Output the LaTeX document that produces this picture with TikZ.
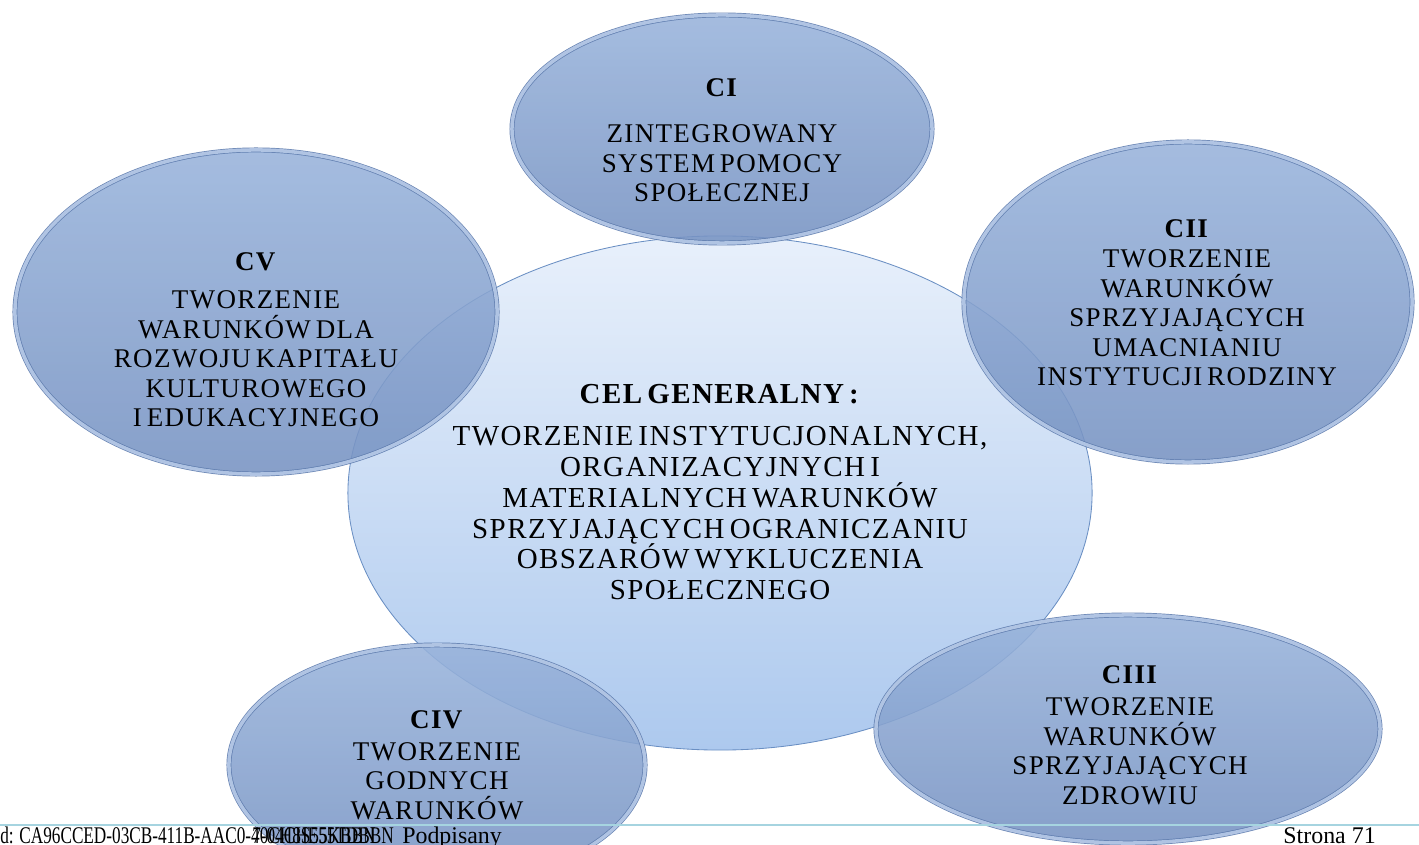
\documentclass[tikz,border=0pt]{standalone}
\usepackage{fontspec}
\setmainfont{Liberation Serif}
\newfontfamily\goalfont[LetterSpace=5,WordSpace=0.6]{Liberation Serif}
\usetikzlibrary{shapes.geometric}

\definecolor{goaltop}{HTML}{98B3DB}
\definecolor{goalbot}{HTML}{7692C2}
\definecolor{goaledge}{HTML}{5A78AB}
\definecolor{goalring}{HTML}{B9CCE9}
\definecolor{celtop}{HTML}{E8F0FB}
\definecolor{celbot}{HTML}{ADC9EE}
\definecolor{celedge}{HTML}{6A8FC3}
\definecolor{footline}{HTML}{A6D4E0}

\tikzset{
  goal/.style={ellipse, inner sep=0, outer sep=0, draw=goaledge, line width=0.5pt,
    double=goalring, double distance=2.5pt, top color=goaltop, bottom color=goalbot,
    fill opacity=0.88, draw opacity=0.9},
  cel/.style={ellipse, inner sep=0, outer sep=0, draw=celedge, line width=0.6pt,
    top color=celtop, bottom color=celbot},
  goaltext/.style={align=center, inner sep=0, font=\goalfont\fontsize{19.2}{21}\selectfont},
  celtext/.style={align=center, inner sep=0, font=\goalfont\fontsize{20.6}{22}\selectfont},
  foottext/.style={inner sep=0, font=\fontsize{17}{19}\selectfont},
}

\begin{document}
\begin{tikzpicture}[x=0.025cm,y=-0.025cm]
\useasboundingbox (0,0) rectangle (1419,845);
\clip (0,0) rectangle (1419,845);
% central goal
\node[cel, minimum width=18.6cm, minimum height=12.85cm] (cel) at (720,493) {};
% five specific goals
\node[goal, minimum width=10.5cm, minimum height=5.7cm] (c1) at (722,129) {};
\node[goal, minimum width=11.2cm, minimum height=8cm] (c2) at (1188,302) {};
\node[goal, minimum width=12.6cm, minimum height=5.7cm] (c3) at (1128,729) {};
\node[goal, minimum width=10.4cm, minimum height=6cm] (c4) at (437,765) {};
\node[goal, minimum width=12.05cm, minimum height=8.1cm] (c5) at (256,312) {};

\node[celtext] (celtxt) at (720,492) {\textbf{CEL GENERALNY :}\\[8pt]TWORZENIE INSTYTUCJONALNYCH,\\ORGANIZACYJNYCH I\\MATERIALNYCH WARUNKÓW\\SPRZYJAJĄCYCH OGRANICZANIU\\OBSZARÓW WYKLUCZENIA\\SPOŁECZNEGO};
\node[goaltext] (c1txt) at (722,140) {\textbf{CI}\\[12pt]ZINTEGROWANY\\SYSTEM POMOCY\\SPOŁECZNEJ};
\node[goaltext] (c2txt) at (1187,303) {\textbf{CII}\\TWORZENIE\\WARUNKÓW\\SPRZYJAJĄCYCH\\UMACNIANIU\\INSTYTUCJI RODZINY};
\node[goaltext] (c3txt) at (1130,735) {\textbf{CIII}\\[2pt]TWORZENIE\\WARUNKÓW\\SPRZYJAJĄCYCH\\ZDROWIU};
\node[goaltext] (c4txt) at (437,765) {\textbf{CIV}\\[2pt]TWORZENIE\\GODNYCH\\WARUNKÓW};
\node[goaltext] (c5txt) at (256,340) {\textbf{CV}\\[6pt]TWORZENIE\\WARUNKÓW DLA\\ROZWOJU KAPITAŁU\\KULTUROWEGO\\I EDUKACYJNEGO};

% footer of the page
\coordinate (ruleL) at (0,825);
\coordinate (ruleR) at (1419,825);
\draw[footline, line width=1.4pt] (ruleL) -- (ruleR);
\node[foottext, anchor=base west] (docid) at (0,843) {\scalebox{0.72}[1]{d: CA96CCED-03CB-411B-AAC0-40CH8S55KBBN}};
\node[foottext, anchor=base west] (docid2) at (252,843) {\scalebox{0.72}[1]{7-04CHE55TDBBN}};
\node[foottext, anchor=base west] (signed) at (402,843) {Podpisany};
\node[foottext, anchor=base east] (page) at (1376,843) {Strona 71};
\end{tikzpicture}
\end{document}
